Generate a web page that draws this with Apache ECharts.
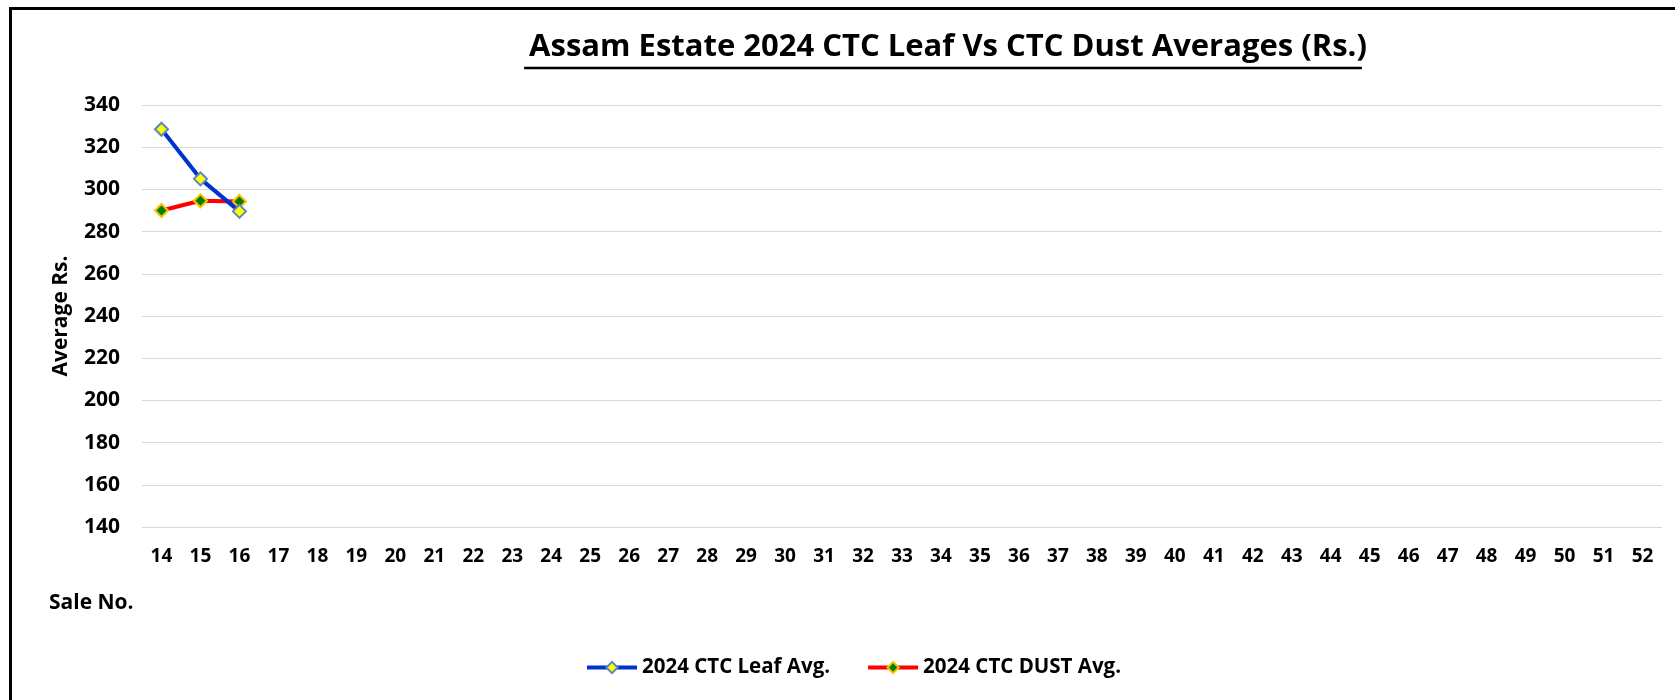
<!DOCTYPE html>
<html lang="en">
<head>
    <meta charset="UTF-8">
    <title>Assam Estate 2024 CTC Leaf Vs CTC Dust Averages</title>
    <style>
        html, body { margin: 0; padding: 0; background: #fff; }
        #chart { width: 1675px; height: 700px; }
    </style>
</head>
<body>
    <div id="chart"></div>
    <script src="https://cdn.jsdelivr.net/npm/echarts@6/dist/echarts.min.js"></script>
    <script>
        // sale numbers on the x axis
        var saleNos = [];
        for (var n = 14; n <= 52; n++) saleNos.push(String(n));

        // only the first three sales have figures so far
        var leafAvg = [328.5, 305, 289.6];
        var dustAvg = [290, 294.6, 294.3];

        var titleText = 'Assam Estate 2024 CTC Leaf Vs CTC Dust Averages (Rs.)';
        var font = '"Open Sans", "Liberation Sans", sans-serif';
        var titleSize = 31;

        // measure title so the underline matches it
        var ctx = document.createElement('canvas').getContext('2d');
        ctx.font = 'bold ' + titleSize + 'px ' + font;
        var titleW = ctx.measureText(titleText).width;
        var titleCx = 943;

        var myChart = echarts.init(document.getElementById('chart'));
        var option = {
            backgroundColor: '#fff',
            textStyle: { fontFamily: font },
            title: {
                text: titleText,
                left: titleCx - titleW / 2,
                top: 27,
                textStyle: { fontSize: titleSize, fontWeight: 'bold', color: '#000', fontFamily: font }
            },
            graphic: [
                {
                    type: 'rect',
                    left: 8, top: 6,
                    shape: { width: 1700, height: 720 },
                    style: { fill: 'none', stroke: '#000', lineWidth: 3 },
                    silent: true
                },
                {
                    type: 'line',
                    shape: { x1: titleCx - titleW / 2, y1: 68, x2: titleCx + titleW / 2, y2: 68 },
                    style: { stroke: '#000', lineWidth: 2.5 }
                },
                {
                    type: 'text',
                    left: 49, top: 593,
                    style: { text: 'Sale No.', fill: '#000', font: 'bold 21px ' + font }
                }
            ],
            legend: {
                left: 580,
                top: 652,
                itemWidth: 50,
                itemHeight: 14,
                itemGap: 36,
                lineStyle: { width: 4 },
                textStyle: { fontSize: 20.5, fontWeight: 'bold', color: '#000' },
                data: ['2024 CTC Leaf Avg.', '2024 CTC DUST Avg.']
            },
            grid: { left: 142, right: 13, top: 105, bottom: 173 },
            xAxis: {
                type: 'category',
                data: saleNos,
                boundaryGap: true,
                axisLine: { show: false },
                axisTick: { show: false },
                axisLabel: { fontSize: 19, fontWeight: 'bold', color: '#000', margin: 20, interval: 0 }
            },
            yAxis: {
                type: 'value',
                min: 140,
                max: 340,
                interval: 20,
                name: 'Average Rs.',
                nameLocation: 'middle',
                nameGap: 70,
                nameTextStyle: { fontSize: 21, fontWeight: 'bold', color: '#000' },
                axisLine: { show: false },
                axisTick: { show: false },
                axisLabel: { fontSize: 21, fontWeight: 'bold', color: '#000', margin: 22 },
                splitLine: { lineStyle: { color: '#d9d9d9', width: 1 } }
            },
            series: [
                {
                    name: '2024 CTC Leaf Avg.',
                    type: 'line',
                    data: leafAvg,
                    symbol: 'diamond',
                    symbolSize: 13,
                    lineStyle: { color: '#0033cc', width: 4 },
                    itemStyle: { color: '#ffff00', borderColor: '#5b86c9', borderWidth: 2 },
                    z: 3
                },
                {
                    name: '2024 CTC DUST Avg.',
                    type: 'line',
                    data: dustAvg,
                    symbol: 'diamond',
                    symbolSize: 13,
                    lineStyle: { color: '#ff0000', width: 4 },
                    itemStyle: { color: '#008000', borderColor: '#ffc000', borderWidth: 2 },
                    z: 2
                }
            ]
        };
        myChart.setOption(option);
    </script>
</body>
</html>
